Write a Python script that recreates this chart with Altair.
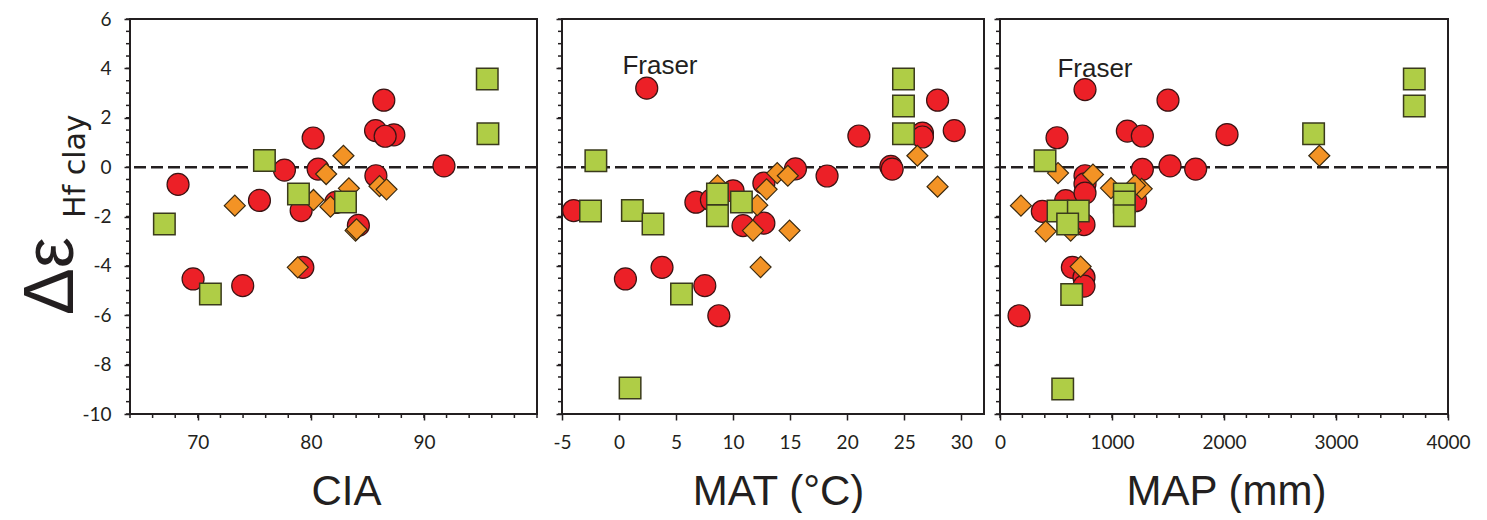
import altair as alt
import pandas as pd

# ---------------- data ----------------
y_domain = [-10, 6]
y_major = [-10, -8, -6, -4, -2, 0, 2, 4, 6]
y_minor = [-10, -9.5, -9, -8.5, -8, -7.5, -7, -6.5, -6, -5.5, -5, -4.5, -4, -3.5, -3, -2.5,
           -2, -1.5, -1, -0.5, 0, 0.5, 1, 1.5, 2, 2.5, 3, 3.5, 4, 4.5, 5, 5.5, 6]
zero_line = [0]

# CIA panel
cia_domain = [64, 100]
cia_major = [70, 80, 90]
cia_minor = [64, 66, 68, 70, 72, 74, 76, 78, 80, 82, 84, 86, 88, 90, 92, 94, 96, 98, 100]
cia_red_x = [68.25, 69.58, 73.97, 75.45, 77.66, 80.2, 80.64, 79.14, 79.29, 82.2, 84.2,
             85.72, 86.45, 87.34, 86.57, 85.75, 91.77]
cia_red_y = [-0.70, -4.53, -4.80, -1.35, -0.12, 1.18, -0.08, -1.76, -4.06, -1.43, -2.36,
             1.48, 2.71, 1.31, 1.25, -0.35, 0.05]
cia_green_x = [67.04, 71.11, 75.89, 78.9, 83.06, 95.6, 95.66]
cia_green_y = [-2.30, -5.14, 0.27, -1.09, -1.41, 3.57, 1.35]
cia_orange_x = [73.27, 78.84, 82.88, 81.35, 80.23, 81.73, 83.36, 83.95, 84.04, 86.07, 86.69]
cia_orange_y = [-1.56, -4.06, 0.46, -0.28, -1.33, -1.60, -0.86, -2.57, -2.52, -0.77, -0.90]

# MAT panel
mat_domain = [-5, 32]
mat_major = [-5, 0, 5, 10, 15, 20, 25, 30]
mat_minor = []
mat_red_x = [-3.98, 2.43, 0.56, 3.77, 6.74, 7.52, 8.75, 8.1, 10.0, 10.87, 12.7, 12.7, 15.47,
             18.24, 21.03, 23.83, 23.95, 26.6, 26.6, 27.93, 29.39]
mat_red_y = [-1.76, 3.20, -4.53, -4.06, -1.42, -4.80, -6.02, -1.33, -0.96, -2.37, -2.27, -0.65,
             -0.07, -0.36, 1.26, 0.03, -0.08, 1.38, 1.22, 2.71, 1.48]
mat_green_x = [-2.03, -2.5, 1.17, 2.98, 0.97, 5.48, 8.63, 8.63, 10.73, 24.94, 24.94, 24.94]
mat_green_y = [0.26, -1.78, -1.76, -2.30, -8.95, -5.14, -1.09, -1.97, -1.41, 3.57, 2.48, 1.35]
mat_orange_x = [8.63, 11.74, 12.12, 12.41, 12.94, 13.87, 14.8, 14.95, 26.16, 27.93]
mat_orange_y = [-0.74, -2.57, -1.54, -4.05, -0.90, -0.24, -0.35, -2.57, 0.46, -0.79]
mat_label_x = [3.59]
mat_label_y = [3.79]

# MAP panel
map_domain = [0, 4000]
map_major = [0, 1000, 2000, 3000, 4000]
map_minor = [0, 200, 400, 600, 800, 1000, 1200, 1400, 1600, 1800, 2000, 2200, 2400, 2600,
             2800, 3000, 3200, 3400, 3600, 3800, 4000]
map_red_x = [170, 509, 759, 378, 586, 759, 759, 759, 750, 646, 750, 750, 1137, 1271, 1500,
             1271, 1518, 1747, 2027, 1211]
map_red_y = [-6.02, 1.19, 3.14, -1.79, -1.36, -0.35, -0.68, -1.05, -2.33, -4.06, -4.46, -4.82,
             1.46, 1.26, 2.71, -0.09, 0.05, -0.08, 1.32, -1.36]
map_green_x = [402, 518, 699, 604, 640, 560, 1110, 1110, 1110, 2800, 3699, 3699]
map_green_y = [0.26, -1.78, -1.78, -2.30, -5.16, -8.99, -1.09, -1.41, -1.97, 1.35, 3.57, 2.48]
map_orange_x = [187, 518, 830, 408, 631, 720, 991, 1265, 1205, 2851]
map_orange_y = [-1.56, -0.24, -0.30, -2.60, -2.57, -4.03, -0.85, -0.88, -0.74, 0.46]
map_label_x = [848]
map_label_y = [3.66]

label_text = ["Fraser"]
ylab_main = ["Δε"]
ylab_sub = ["Hf clay"]

# ---------------- style ----------------
INK = "#231f20"
RED = "#ec2027"
GREEN = "#afcd46"
ORANGE = "#f39325"
H = 395


def panel(title, domain, major, minor, red, green, orange, width, title_x,
          show_ylabels, label=None):
    xs = alt.Scale(domain=domain, nice=False, zero=False)
    ys = alt.Scale(domain=y_domain, nice=False, zero=False)
    xaxis = alt.Axis(values=major, title=title, tickSize=6, labelPadding=13,
                     labelExpr="datum.value + ''", labelFlush=False,
                     titlePadding=19, titleX=title_x, titleAlign="center")
    yaxis = alt.Axis(values=y_major, title=None, tickSize=6, labelPadding=13,
                     labelExpr="datum.value + ''", labelFlush=False,
                     labels=show_ylabels)
    X = alt.X("x:Q", scale=xs, axis=xaxis)
    Y = alt.Y("y:Q", scale=ys, axis=yaxis)

    layers = []
    layers.append(
        alt.Chart(pd.DataFrame({"y": zero_line})).mark_rule(
            color=INK, strokeWidth=2.5, strokeDash=[12, 5]).encode(y=Y)
    )
    if minor:
        layers.append(
            alt.Chart(pd.DataFrame({"x": minor})).mark_rule(color=INK, strokeWidth=1.5)
            .encode(x=X, y=alt.value(H), y2=alt.value(H + 4))
        )
    layers.append(
        alt.Chart(pd.DataFrame({"y": y_minor})).mark_rule(color=INK, strokeWidth=1.5)
        .encode(y=Y, x=alt.value(0), x2=alt.value(-4))
    )
    layers.append(
        alt.Chart(pd.DataFrame({"x": red[0], "y": red[1]})).mark_point(
            shape="circle", filled=True, fill=RED, stroke="#3a1414", strokeWidth=1.2,
            size=484, opacity=1).encode(x=X, y=Y)
    )
    layers.append(
        alt.Chart(pd.DataFrame({"x": orange[0], "y": orange[1]})).mark_point(
            shape="diamond", filled=True, fill=ORANGE, stroke="#3a2a10", strokeWidth=1.2,
            size=441, opacity=1).encode(x=X, y=Y)
    )
    layers.append(
        alt.Chart(pd.DataFrame({"x": green[0], "y": green[1]})).mark_point(
            shape="square", filled=True, fill=GREEN, stroke="#3a3a1c", strokeWidth=1.5,
            size=462, opacity=1).encode(x=X, y=Y)
    )
    if label is not None:
        layers.append(
            alt.Chart(pd.DataFrame({"x": label[0], "y": label[1], "t": label_text}))
            .mark_text(font="Liberation Sans", fontSize=26, color=INK, align="center",
                       baseline="alphabetic")
            .encode(x=X, y=Y, text="t:N")
        )
    if show_ylabels:
        layers.append(
            alt.Chart(pd.DataFrame({"t": ylab_main})).mark_text(
                font="Liberation Sans", fontSize=70, color=INK, angle=270,
                align="left", baseline="alphabetic")
            .encode(x=alt.value(-57), y=alt.value(296), text="t:N")
        )
        layers.append(
            alt.Chart(pd.DataFrame({"t": ylab_sub})).mark_text(
                font="DejaVu Sans", fontSize=30, color=INK, angle=270,
                align="left", baseline="alphabetic")
            .encode(x=alt.value(-45), y=alt.value(199), text="t:N")
        )
    return alt.layer(*layers).properties(width=width, height=H)


p1 = panel("CIA", cia_domain, cia_major, cia_minor,
           (cia_red_x, cia_red_y), (cia_green_x, cia_green_y), (cia_orange_x, cia_orange_y),
           407, 216, True)
p2 = panel("MAT (°C)", mat_domain, mat_major, mat_minor,
           (mat_red_x, mat_red_y), (mat_green_x, mat_green_y), (mat_orange_x, mat_orange_y),
           422, 216, False, (mat_label_x, mat_label_y))
p3 = panel("MAP (mm)", map_domain, map_major, map_minor,
           (map_red_x, map_red_y), (map_green_x, map_green_y), (map_orange_x, map_orange_y),
           448, 226, False, (map_label_x, map_label_y))

chart = (
    alt.hconcat(alt.hconcat(p1, p2, spacing=11), p3, spacing=5)
    .properties(padding={"left": 8, "top": 1, "right": 5, "bottom": 0})
    .configure_view(stroke=INK, strokeWidth=2)
    .configure_axis(domain=False, grid=False, tickColor=INK, tickWidth=1.5,
                    labelFont="Lato", labelFontSize=19, labelColor=INK,
                    titleFont="Liberation Sans", titleFontSize=42,
                    titleFontWeight="normal", titleColor=INK)
)

chart.save("out.html", embed_options={"renderer": "svg", "actions": False})
